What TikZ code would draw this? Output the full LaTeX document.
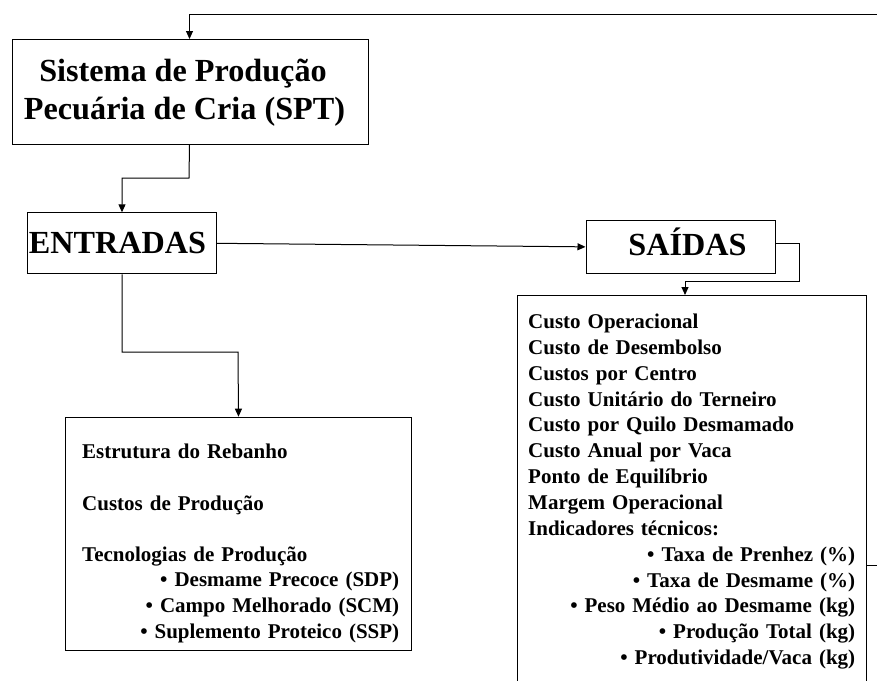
\documentclass[tikz,border=0pt]{standalone}
\usepackage{fontspec}
\setmainfont{Liberation Serif}
\usetikzlibrary{arrows.meta}
\begin{document}
\begin{tikzpicture}[x=1pt,y=-1pt,
  box/.style={draw, line width=1pt, inner sep=0pt, anchor=north west},
  conn/.style={draw, line width=1pt, -{Triangle[length=8pt,width=7pt]}},
  plain/.style={draw, line width=1pt},
  big/.style={font=\fontsize{32.2}{37.6}\selectfont\bfseries, inner sep=0pt, anchor=base},
  small/.style={font=\fontsize{21}{25.85}\selectfont\bfseries, align=left, inner sep=0pt, anchor=north west}]
\clip (0,0) rectangle (877,680);
% boxes
\node[box, minimum width=356pt, minimum height=105pt] (spt) at (12,39) {};
\node[box, minimum width=189pt, minimum height=61pt] (ent) at (27,212.3) {};
\node[box, minimum width=189.5pt, minimum height=52.7pt] (sai) at (585.5,220) {};
\node[box, minimum width=346pt, minimum height=233.5pt] (inp) at (65,416.7) {};
\node[box, minimum width=349pt, minimum height=420pt] (out) at (517,295) {};
% titles
\node[big] (spt1) at (183,81.7) {Sistema de Produção};
\node[big] (spt2) at (184.5,119.3) {Pecuária de Cria (SPT)};
\node[big] (enttxt) at (117.5,253.3) {ENTRADAS};
\node[big] (saitxt) at (687.5,255) {SAÍDAS};
% box texts
\node[small, text width=317pt, font=\fontsize{21}{25.6}\selectfont\bfseries] (inptxt) at (82,444.2) {Estrutura do Rebanho\\[25.6pt]Custos de Produção\\[25.6pt]Tecnologias de Produção\\
\hspace*{\fill}• Desmame Precoce (SDP)\\
\hspace*{\fill}• Campo Melhorado (SCM)\\
\hspace*{\fill}• Suplemento Proteico (SSP)};
\node[small, text width=327pt] (outtxt) at (528,313.8) {Custo Operacional\\Custo de Desembolso\\Custos por Centro\\Custo Unitário do Terneiro\\Custo por Quilo Desmamado\\Custo Anual por Vaca\\Ponto de Equilíbrio\\Margem Operacional\\Indicadores técnicos:\\
\hspace*{\fill}• Taxa de Prenhez (\%)\\
\hspace*{\fill}• Taxa de Desmame (\%)\\
\hspace*{\fill}• Peso Médio ao Desmame (kg)\\
\hspace*{\fill}• Produção Total (kg)\\
\hspace*{\fill}• Produtividade/Vaca (kg)};
% connectors
\coordinate (fbtop) at (877,14);
\coordinate (fbside) at (877,565);
\draw[conn] (fbtop) -| ([xshift=-1pt]spt.north);
\draw[plain] (fbside -| out.east) -- (fbside);
\draw[conn] ([xshift=-1pt]spt.south) -- (189,178) -| (ent.north);
\draw[conn] (ent.east) -- (sai.west);
\draw[conn] (sai.east |- 0,243.3) -- (799,243.3) |- (685,281.7) -- (685,295);
\draw[conn] (ent.south) |- (238,352) -- (inp.north);
\end{tikzpicture}
\end{document}
